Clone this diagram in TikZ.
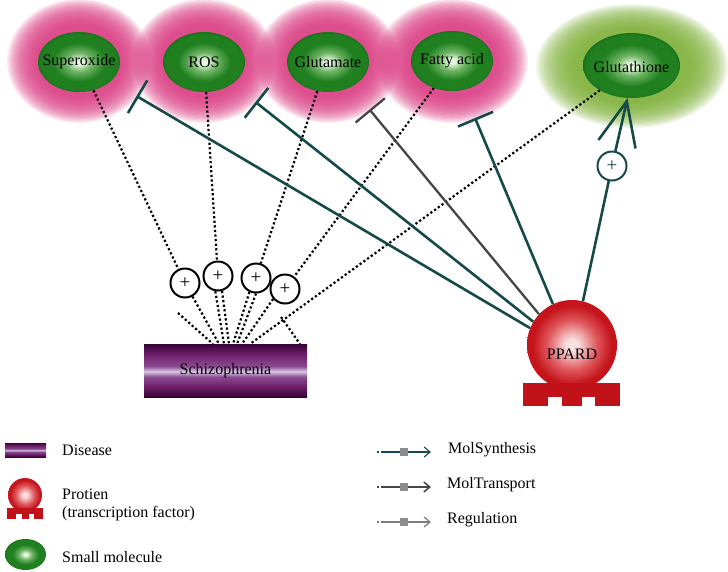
\documentclass[tikz,border=0pt]{standalone}
\usepackage{fontspec}
\setmainfont{Liberation Serif}
\usetikzlibrary{shapes.geometric,arrows.meta}
\definecolor{teal2}{RGB}{22,74,72}
\definecolor{tgray}{RGB}{70,70,70}
\definecolor{lgray}{RGB}{125,125,125}
\definecolor{sqgray}{RGB}{140,140,140}
\definecolor{pinkglow}{RGB}{218,60,130}
\definecolor{greenglow}{RGB}{125,175,55}
\definecolor{moldark}{RGB}{32,128,32}
\definecolor{moldarker}{RGB}{26,115,26}
\definecolor{molmid}{RGB}{110,180,100}
\definecolor{mollight}{RGB}{232,248,225}
\definecolor{pdark}{RGB}{198,20,28}
\definecolor{pmid}{RGB}{222,85,90}
\definecolor{plight}{RGB}{250,225,225}
\definecolor{pbase}{RGB}{192,18,24}
\definecolor{sdark}{RGB}{55,5,52}
\definecolor{smid}{RGB}{105,28,102}
\definecolor{smid2}{RGB}{140,75,145}
\definecolor{slight}{RGB}{215,200,230}
\pgfdeclareverticalshading{schzshade}{100bp}{color(0bp)=(sdark); color(25bp)=(sdark); color(34bp)=(smid); color(44bp)=(smid2); color(49bp)=(slight); color(54bp)=(smid2); color(66bp)=(smid); color(75bp)=(sdark); color(100bp)=(sdark)}
\pgfdeclareradialshading{molshade}{\pgfpoint{0bp}{0bp}}{color(0bp)=(mollight); color(2bp)=(mollight); color(8bp)=(molmid); color(16bp)=(moldark); color(23bp)=(moldark); color(25bp)=(moldarker); color(50bp)=(moldarker)}
\pgfdeclareradialshading{ballshade}{\pgfpoint{0bp}{0bp}}{color(0bp)=(plight); color(3bp)=(plight); color(14bp)=(pmid); color(22bp)=(pdark); color(25bp)=(pdark); color(50bp)=(pdark)}
\newcommand{\myglow}[5]{%
  \foreach \s in {1.00,0.98,...,0.58}{%
    \fill[#5,opacity=0.105] (#1,#2) ellipse ({#3*\s*1pt} and {#4*\s*1pt});}}
\begin{document}
\begin{tikzpicture}[x=1pt,y=-1pt,font=\fontsize{16}{19}\selectfont,
  mol/.style={ellipse, inner sep=0pt, shading=molshade, minimum width=82pt, minimum height=60pt},
  plus/.style={circle, draw=black, line width=2pt, fill=white, minimum size=29pt, inner sep=0pt, font=\fontsize{19}{19}\selectfont},
  dots/.style={line width=2.2pt, dash pattern=on 2.2pt off 2.4pt},
  inhib/.style={teal2, line width=2.6pt, -{Bar[width=38pt]}},
  ball/.style={circle, inner sep=0pt, shading=ballshade},
  disease/.style={rectangle, inner sep=0pt, shading=schzshade},
  legtext/.style={anchor=west, inner sep=0pt}]
\useasboundingbox (0,0) rectangle (728,571);
\begin{scope}
\clip (0,0) rectangle (728,571);
\myglow{79}{61}{72}{62}{pinkglow}
\myglow{204}{61}{72}{62}{pinkglow}
\myglow{328}{61}{72}{62}{pinkglow}
\myglow{452}{61}{76}{62}{pinkglow}
\myglow{632}{66}{96}{62}{greenglow}
\end{scope}
% molecules
\node[mol, label={[name=lsup]center:Superoxide}] (sup) at (79,62) {};
\node[mol, label={[name=lros]center:ROS}] (ros) at (204,62) {};
\node[mol, label={[name=lglm]center:Glutamate}] (glm) at (328,62) {};
\node[mol, label={[name=lfat]center:Fatty acid}] (fat) at (452,61) {};
\node[mol, minimum width=97pt, minimum height=65pt, label={[name=lgsh,yshift=-2pt]center:Glutathione}] (gsh) at (631.5,65.5) {};
% PPARD
\node[ball, minimum size=90pt] (ppard) at (572,345) {};
\fill[pbase] (523,383) rectangle (620,397);
\fill[pbase] (523,396) rectangle (548,406);
\fill[pbase] (562,396) rectangle (582,406);
\fill[pbase] (595,396) rectangle (620,406);
\node (ppardlbl) at (572,354) {PPARD};
% disease box
\node[disease, minimum width=163pt, minimum height=53pt] (schz) at (225.5,370.5) {Schizophrenia};
% plus circles
\node[plus] (p1) at (185,283) {+};
\node[plus] (p2) at (218,276) {+};
\node[plus] (p3) at (256,278) {+};
\node[plus] (p4) at (285,289) {+};
\node[plus, draw=teal2, text=teal2] (pc) at (612,166) {+};
% coordinates
\coordinate (t1) at (136.5,96);
\coordinate (t2) at (255.5,102);
\coordinate (t3) at (369.5,109.5);
\coordinate (t4) at (475,118);
\coordinate (f0) at (178,313);
\coordinate (f9) at (281,317);
\coordinate (b1) at (213,344);
\coordinate (b2) at (219,344);
\coordinate (b3) at (224,344);
\coordinate (b4) at (229,344);
\coordinate (b5) at (233,344);
\coordinate (b6) at (237,344);
\coordinate (b7) at (242,344);
\coordinate (b8) at (250,344);
\coordinate (b9) at (300,344);
% dotted relations
\draw[dots] (sup.-63) -- (p1);
\draw[dots] (ros.-86) -- (p2);
\draw[dots] (glm.-110) -- (p3);
\draw[dots] (fat.-124) -- (p4);
\draw[dots] (gsh.-142) -- (b8);
\draw[dots] (f0) -- (b1);
\draw[dots] (p1) -- (b2);
\draw[dots] (p2.-100) -- (b3);
\draw[dots] (p2.-75) -- (b4);
\draw[dots] (p3.-115) -- (b5);
\draw[dots] (p3.-90) -- (b6);
\draw[dots] (p4.-140) -- (b7);
\draw[dots] (f9) -- (b9);
% inhibitions
\draw[inhib] (ppard.158) -- (t1);
\draw[inhib] (ppard.149.5) -- (t2);
\draw[inhib, tgray, line width=2.3pt] (ppard.137) -- (t3);
\draw[inhib] (ppard.115) -- (t4);
% synthesis arrow
\draw[teal2, line width=2.6pt] (ppard.76) -- (pc);
\draw[teal2, line width=2.6pt, -{Straight Barb[length=44pt,width=38pt]}] (pc) -- (gsh.-97);
% legend symbols
\fill[shading=schzshade] (5,443) rectangle (46,457);
\node[ball, minimum size=34pt] (lgball) at (25,495) {};
\fill[pbase] (7,508) rectangle (43,514);
\fill[pbase] (7,513.5) rectangle (16.3,519);
\fill[pbase] (21.5,513.5) rectangle (28.9,519);
\fill[pbase] (33.7,513.5) rectangle (43,519);
\node[mol, minimum width=41pt, minimum height=31pt] (lgmol) at (25.5,554.5) {};
\node[legtext] (ldis) at (62,450) {Disease};
\node[legtext] (lpro) at (62,494) {Protien};
\node[legtext] (lpro2) at (62,514) {(transcription factor)};
\node[legtext] (lsm) at (62,557) {Small molecule};
% legend lines
\coordinate (s0) at (377,452); \coordinate (s1) at (381,452); \coordinate (s2) at (431,452);
\coordinate (m0) at (377,487); \coordinate (m1) at (381,487); \coordinate (m2) at (431,487);
\coordinate (r0) at (377,522); \coordinate (r1) at (381,522); \coordinate (r2) at (431,522);
\draw[teal2, line width=1.1pt] (s0) -- ++(1.5,0);
\draw[teal2, line width=1.1pt, -{Straight Barb[length=6pt,width=10pt]}] (s1) -- (s2);
\draw[tgray, line width=1.5pt] (m0) -- ++(1.5,0);
\draw[tgray, line width=1.5pt, -{Straight Barb[length=6pt,width=10pt]}] (m1) -- (m2);
\draw[lgray, line width=1.2pt] (r0) -- ++(1.5,0);
\draw[lgray, line width=1.2pt, -{Straight Barb[length=6pt,width=10pt]}] (r1) -- (r2);
\fill[sqgray] (400,448) rectangle (408,456);
\fill[sqgray] (400,483) rectangle (408,491);
\fill[sqgray] (400,518) rectangle (408,526);
\node[legtext] (lsyn) at (448,450) {MolSynthesis};
\node[legtext] (ltra) at (447,485) {MolTransport};
\node[legtext] (lreg) at (447,520) {Regulation};
\end{tikzpicture}
\end{document}
